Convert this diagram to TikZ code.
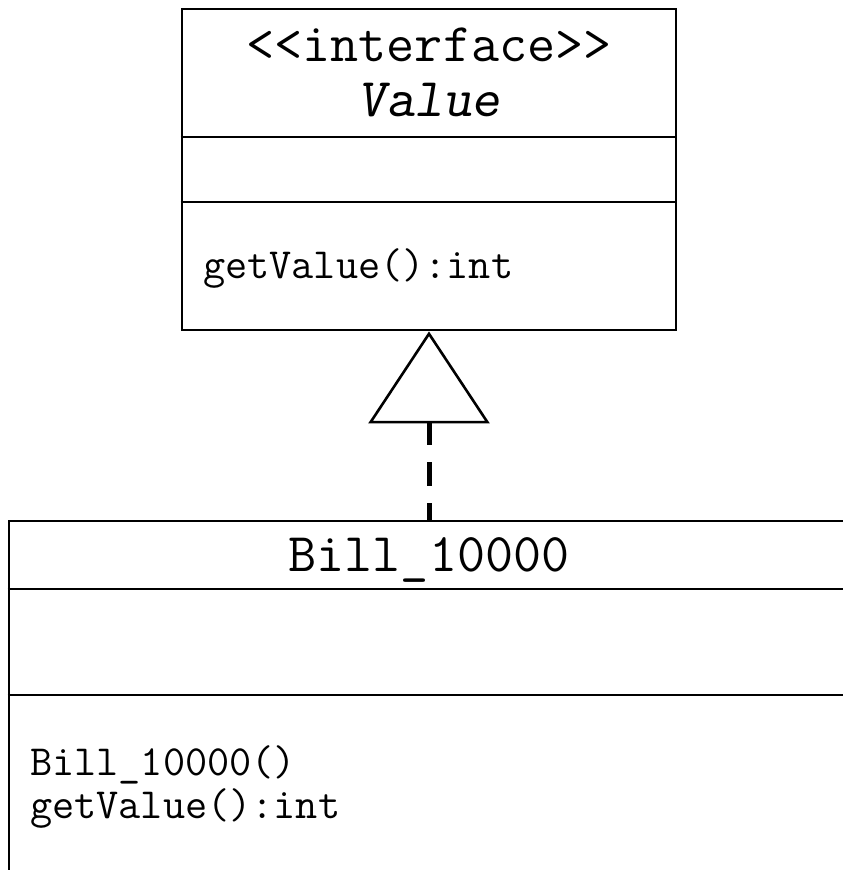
\documentclass[tikz,border=0pt]{standalone}
\usepackage{fontspec}
\usetikzlibrary{arrows.meta}
\begin{document}
\begin{tikzpicture}[x=1pt,y=-1pt,
  umlbox/.style={draw, line width=2.8pt, rectangle, inner sep=0pt},
  divider/.style={line width=2.8pt},
  titletext/.style={inner sep=0pt, anchor=base, font=\ttfamily\fontsize{54.5}{60}\selectfont},
  membertext/.style={inner sep=0pt, anchor=base west, font=\ttfamily\fontsize{43}{48}\selectfont},
  realizes/.style={line width=5pt, dash pattern=on 24pt off 17pt, dash phase=7pt,
    -{Triangle[open, length=92pt, width=121pt, line width=2.6pt]}}
]
\useasboundingbox (0,0) rectangle (843,870);
\fill[white] (0,0) rectangle (843,870);
% interface Value
\node[umlbox, minimum width=494pt, minimum height=321pt] (value) at (429,169.5) {};
\draw[divider] (value.west |- 0,137) -- (value.east |- 0,137);
\draw[divider] (value.west |- 0,202) -- (value.east |- 0,202);
\node[titletext] (stereo) at (429,61) {<<interface>>};
\node[titletext] (valname) at (429,116) {\slshape Value};
\node[membertext] (valop) at (203,278) {getValue():int};
% class Bill_10000
\node[umlbox, minimum width=840pt, minimum height=420pt] (bill) at (429,731) {};
\draw[divider] (bill.west |- 0,589) -- (bill.east |- 0,589);
\draw[divider] (bill.west |- 0,695) -- (bill.east |- 0,695);
\node[titletext] (billname) at (429,571) {Bill\_10000};
\node[membertext] (billctor) at (30,775) {Bill\_10000()};
\node[membertext] (billop) at (30,818) {getValue():int};
% realization
\draw[realizes] (bill.north) -- (value.south);
\end{tikzpicture}
\end{document}
